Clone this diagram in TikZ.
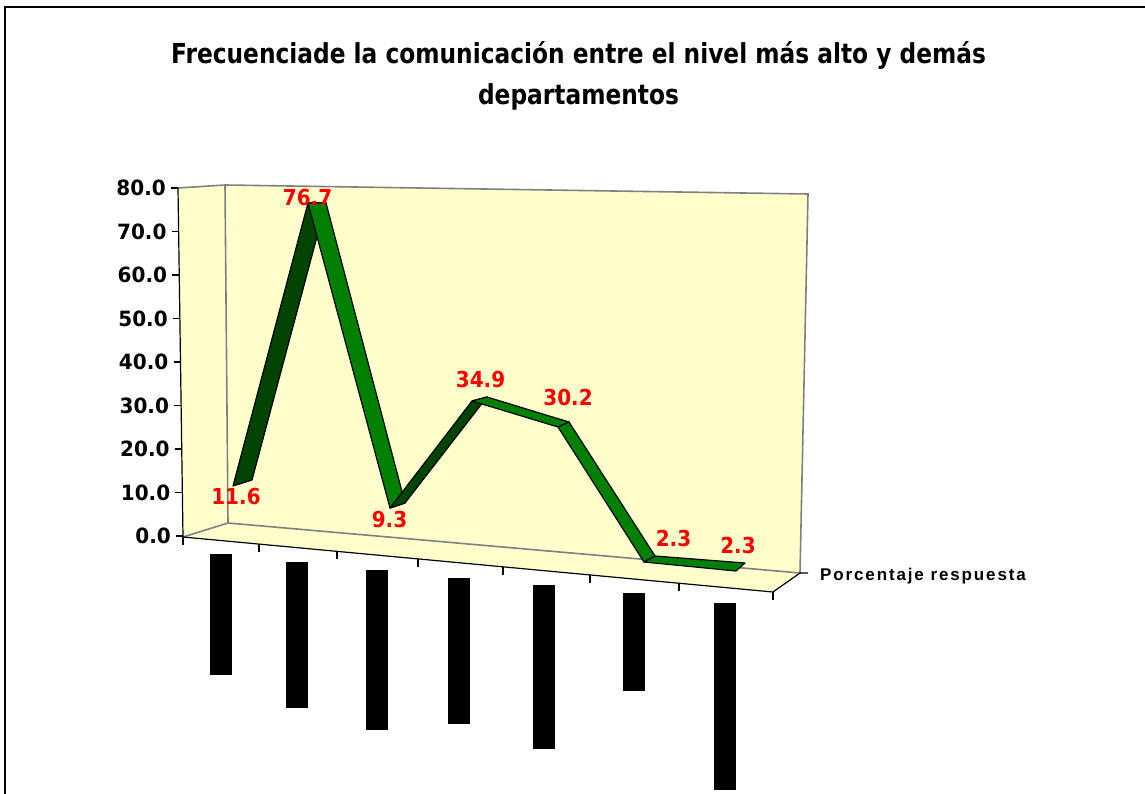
\documentclass[tikz,border=0pt]{standalone}
\usepackage{fontspec}
\newfontfamily\djb{DejaVu Sans}
\newfontfamily\arsp{Liberation Sans}[LetterSpace=11]
\definecolor{wallyellow}{HTML}{FFFFCC}
\definecolor{ribdark}{HTML}{004400}
\definecolor{ribgreen}{HTML}{008000}
\definecolor{gridgray}{HTML}{808080}
\newcommand{\tallA}[1]{\scalebox{1}[1.18]{#1}}
\newcommand{\tallB}[1]{\scalebox{1}[1.1]{#1}}
\newcommand{\tallC}[1]{\scalebox{1}[1.05]{#1}}
\tikzset{
  wall/.style={fill=wallyellow, draw=none},
  gridln/.style={draw=gridgray, line width=1.6pt, line cap=round},
  axisln/.style={draw=black, line width=1.2pt},
  ribup/.style={fill=ribdark, draw=black, line width=1.2pt, line join=round},
  ribdown/.style={fill=ribgreen, draw=black, line width=1.2pt, line join=round},
  vallabel/.style={text=red, font=\djb\bfseries\fontsize{20}{24}\selectfont, inner sep=0pt},
  ylab/.style={font=\djb\bfseries\fontsize{20}{24}\selectfont, anchor=east, inner sep=0pt},
  titlefont/.style={font=\djb\bfseries\fontsize{23.3}{28}\selectfont, inner sep=0pt},
  catbar/.style={fill=black, draw=none},
  frameln/.style={draw=black, line width=2pt}
}
\begin{document}
\begin{tikzpicture}[x=1pt,y=-1pt]
\useasboundingbox (0,0) rectangle (1145,794);
% frame
\draw[frameln] (4.5,794) -- (4.5,7) -- (1145,7);
% title
\node[titlefont, anchor=base] (t1) at (578.5,63.5) {\tallA{Frecuenciade la comunicación entre el nivel más alto y demás}};
\node[titlefont, anchor=base] (t2) at (578.5,105) {\tallA{departamentos}};
% corners of the 3D box
\coordinate (LWt) at (178,188);
\coordinate (BWtl) at (225,185);
\coordinate (BWtr) at (808,194);
\coordinate (BWbr) at (800,573);
\coordinate (BWbl) at (228,523);
\coordinate (FLl) at (183,537);
\coordinate (FLr) at (773,592);
% walls
\fill[wall] (LWt) -- (BWtl) -- (BWbl) -- (FLl) -- cycle;
\fill[wall] (BWtl) -- (BWtr) -- (BWbr) -- (BWbl) -- cycle;
\fill[wall] (FLl) -- (BWbl) -- (BWbr) -- (FLr) -- cycle;
% gray edges
\draw[gridln] (LWt) -- (BWtl) -- (BWtr) -- (BWbr) -- (BWbl) -- (FLl);
\draw[gridln] (BWtl) -- (BWbl);
% axes
\draw[axisln] (LWt) -- (FLl) -- (FLr) -- (BWbr) -- ++(8,0);
\foreach \v/\l in {0/0.0,10/10.0,20/20.0,30/30.0,40/40.0,50/50.0,60/60.0,70/70.0,80/80.0}{
  \draw[axisln] ({183-\v/16},{536-4.35*\v}) -- ++(-7,0);
  \node[ylab] at ({171-\v/16},{536-4.35*\v}) {\tallC{\l}};
}
\foreach \tx in {183,259,337,418,503,590,679,773}{
  \draw[axisln] (\tx,{537+(\tx-183)/590*55}) -- ++(0,8);
}
% ribbon points
\coordinate (F1) at (233,486); \coordinate (B1) at (252,480);
\coordinate (F2) at (308,203); \coordinate (B2) at (326,203);
\coordinate (F3) at (390,508); \coordinate (B3) at (405,503);
\coordinate (F4) at (472,401); \coordinate (B4) at (487,397);
\coordinate (F5) at (558,427); \coordinate (B5) at (569,422);
\coordinate (F6) at (644,562); \coordinate (B6) at (655,556);
\coordinate (F7) at (736,571); \coordinate (B7) at (745,563);
\draw[ribup]   (F1) -- (F2) -- (B2) -- (B1) -- cycle;
\draw[ribdown] (F2) -- (F3) -- (B3) -- (B2) -- cycle;
\draw[ribup]   (F3) -- (F4) -- (B4) -- (B3) -- cycle;
\draw[ribdown] (F4) -- (F5) -- (B5) -- (B4) -- cycle;
\draw[ribdown] (F5) -- (F6) -- (B6) -- (B5) -- cycle;
\draw[ribdown] (F6) -- (F7) -- (B7) -- (B6) -- cycle;
% value labels
\node[vallabel] (v1) at (236,496) {\tallB{11.6}};
\node[vallabel] (v2) at (307.5,197.5) {\tallB{76.7}};
\node[vallabel] (v3) at (389.5,519.5) {\tallB{9.3}};
\node[vallabel] (v4) at (480.5,379.5) {\tallB{34.9}};
\node[vallabel] (v5) at (568,397) {\tallB{30.2}};
\node[vallabel] (v6) at (673.5,538) {\tallB{2.3}};
\node[vallabel] (v7) at (738,545.5) {\tallB{2.3}};
% category bars
\fill[catbar] (210,554) rectangle (232,675);
\fill[catbar] (286,562) rectangle (308,708);
\fill[catbar] (366,570) rectangle (388,730);
\fill[catbar] (448,578) rectangle (470,724);
\fill[catbar] (533,585) rectangle (555,749);
\fill[catbar] (623,593) rectangle (645,691);
\fill[catbar] (714,603) rectangle (736,790);
% depth axis title
\node[font=\arsp\bfseries\fontsize{17}{20}\selectfont, anchor=base west, inner sep=0pt] (pr) at (820,580) {Porcentaje respuesta};
\end{tikzpicture}
\end{document}
